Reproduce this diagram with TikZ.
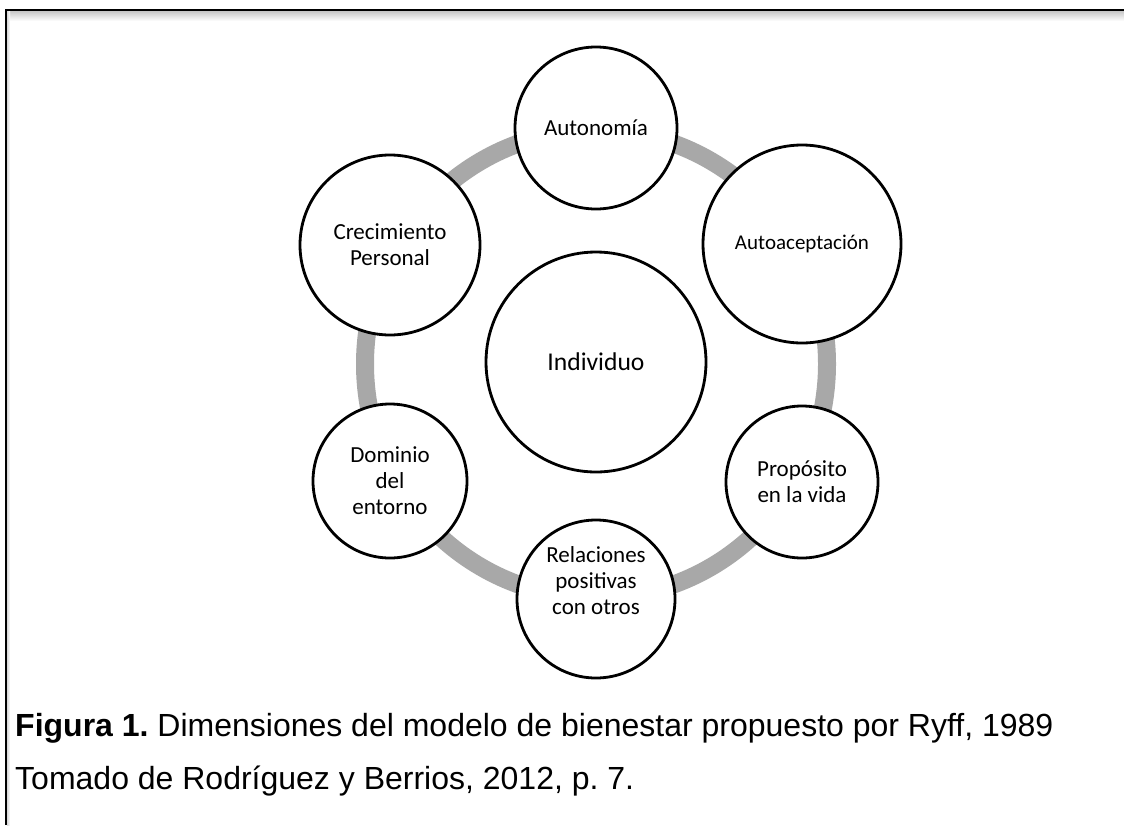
\documentclass[tikz,border=0pt]{standalone}
\usepackage{fontspec}
\setmainfont{Liberation Sans}
\newfontfamily\carlito{Carlito}
\definecolor{ringgray}{RGB}{168,168,168}
\frenchspacing
\begin{document}
\begin{tikzpicture}[x=1pt,y=-1pt,
  dim/.style={circle, draw=black, line width=2.8pt, fill=white, inner sep=0pt,
    align=center, font=\carlito\fontsize{23}{26}\selectfont},
  lbl/.style={inner sep=0pt, align=center, font=\carlito\fontsize{23}{26}\selectfont},
  caption/.style={inner sep=0pt, anchor=base west, font=\fontsize{32}{36}\selectfont}]
  \useasboundingbox (0,0) rectangle (1124,825);
  \fill[white] (0,0) rectangle (1124,825);

  % frame with soft shadow
  \shade[top color=black!22, bottom color=white] (7,11) rectangle (1124,21);
  \shade[left color=black!15, right color=white] (7,11) rectangle (10,825);
  \draw[line width=2.4pt] (6,825) -- (6,10) -- (1124,10);

  % grey ring
  \draw[ringgray, line width=18pt] (596,364) ellipse [x radius=231pt, y radius=234pt];

  % dimensions
  \node[dim, minimum size=162pt] (auto) at (596,128) {Autonom\'ia};
  \node[dim, minimum size=198pt, font=\carlito\fontsize{21}{26}\selectfont] (acep) at (802,244) {Autoaceptaci\'on};
  \node[dim, minimum size=152pt] (prop) at (802,482) {Prop\'osito\\en la vida};
  \node[dim, minimum size=158pt] (rel) at (596,599) {};
  \node[lbl] (reltxt) at (596,581) {Relaciones\\positivas\\con otros};
  \node[dim, minimum size=154pt] (dom) at (390,481) {Dominio\\del\\entorno};
  \node[dim, minimum size=180pt] (crec) at (390,245) {Crecimiento\\Personal};

  % centre
  \node[dim, minimum size=220pt, font=\carlito\fontsize{25.6}{30}\selectfont] (ind) at (596,362) {Individuo};

  % caption
  \node[caption] (cap1) at (15,736) {\textbf{Figura 1.} Dimensiones del modelo de bienestar propuesto por Ryff, 1989};
  \node[caption] (cap2) at (15,789) {Tomado de Rodr\'iguez y Berrios, 2012, p. 7.};
\end{tikzpicture}
\end{document}
